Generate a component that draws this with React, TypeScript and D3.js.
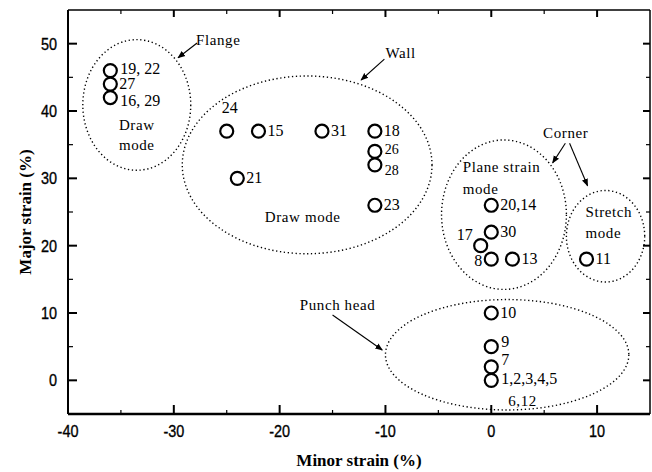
import React from 'react';
import * as d3 from 'd3';

const WIDTH = 652;
const HEIGHT = 472;
const MARGIN = { top: 10, right: 2, bottom: 58, left: 68 };

// measured points: minor strain (x) / major strain (y), in %
const pointLabels = ['19, 22', '27', '16, 29', '24', '15', '31', '18', '26', '28', '21', '23',
  '20,14', '30', '17', '8', '13', '11', '10', '9', '7', '1,2,3,4,5'];
const minorStrain = [-36, -36, -36, -25, -22, -16, -11, -11, -11, -24, -11, 0, 0, -1, 0, 2, 9, 0, 0, 0, 0];
const majorStrain = [46, 44, 42, 37, 37, 37, 37, 34, 32, 30, 26, 26, 22, 20, 18, 18, 18, 10, 5, 2, 0];

// deformation regions drawn as dotted ellipses (centre and half-axes in % strain)
const regionNames = ['Flange', 'Wall', 'Plane strain', 'Stretch', 'Punch head'];
const regionMinor = [-33.5, -17.4, 1.2, 10.8, 1.5];
const regionMajor = [40.9, 32.0, 24.6, 21.4, 3.8];
const regionSpanMinor = [5.1, 11.8, 5.9, 3.7, 11.5];
const regionSpanMajor = [9.7, 13.2, 11.1, 6.8, 8.2];

// annotation texts, anchored in data units
const noteTexts = ['Flange', 'Wall', 'Corner', 'Punch head', 'Draw', 'mode', 'Draw mode',
  'Plane strain', 'mode', 'Stretch', 'mode', '6,12'];
const noteMinor = [-27.9, -10.0, 4.9, -18.1, -33.5, -33.5, -21.4, -2.7, -2.7, 8.9, 8.9, 1.6];
const noteMajor = [49.8, 47.9, 36.0, 10.4, 37.2, 34.2, 23.5, 30.9, 27.7, 24.3, 21.1, -3.8];

// arrows from the region names to their ellipses
const arrowFromMinor = [-27.8, -10.1, 7.0, 7.4, -15.0];
const arrowFromMajor = [50.1, 47.7, 35.2, 35.2, 9.7];
const arrowToMinor = [-29.6, -12.3, 5.8, 9.1, -10.3];
const arrowToMajor = [47.9, 44.6, 32.3, 28.9, 4.5];

const xTicks = [-40, -30, -20, -10, 0, 10];
const yTicks = [0, 10, 20, 30, 40, 50];

const SERIF = '"Liberation Serif", "Times New Roman", serif';
const SANS = '"Liberation Sans", Arial, sans-serif';

// where each point label sits relative to its circle
function labelPlacement(label: string) {
  switch (label) {
    case '24': return { dx: -5, dy: -18, anchor: 'start', size: 16 };
    case '17': return { dx: -8, dy: -6, anchor: 'end', size: 16 };
    case '8': return { dx: -9, dy: 7, anchor: 'end', size: 16 };
    case '9': return { dx: 10, dy: 0, anchor: 'start', size: 16 };
    case '7': return { dx: 10, dy: -2, anchor: 'start', size: 16 };
    case '19, 22': return { dx: 10, dy: 3, anchor: 'start', size: 16 };
    case '16, 29': return { dx: 10, dy: 8, anchor: 'start', size: 16 };
    case '26': return { dx: 10, dy: 3, anchor: 'start', size: 14 };
    case '28': return { dx: 10, dy: 10, anchor: 'start', size: 14 };
    case '1,2,3,4,5': return { dx: 10, dy: 4, anchor: 'start', size: 16 };
    default: return { dx: 9, dy: 5, anchor: 'start', size: 16 };
  }
}

export default function App() {
  const x = d3.scaleLinear().domain([-40, 15]).range([MARGIN.left, WIDTH - MARGIN.right]);
  const y = d3.scaleLinear().domain([-5, 55]).range([HEIGHT - MARGIN.bottom, MARGIN.top]);
  const [x0, x1] = x.range();
  const [y0, y1] = y.range();

  const minorX = d3.range(-35, 15, 10);
  const minorY = d3.range(-5, 55, 10).filter(v => v > -5);

  const centredNotes = new Set([4, 5]);

  return (
    <svg width={WIDTH} height={HEIGHT} style={{ position: 'absolute', left: 0, top: 0, background: '#fff' }}>
      <defs>
        <marker id='head' viewBox='0 0 10 10' refX='9' refY='5' markerWidth='7' markerHeight='7' orient='auto'>
          <path d='M0,1L10,5L0,9Z' fill='#000' />
        </marker>
      </defs>

      {/* regions */}
      {regionNames.map((name, i) =>
        <ellipse
          key={name}
          cx={x(regionMinor[i])}
          cy={y(regionMajor[i])}
          rx={x(regionMinor[i] + regionSpanMinor[i]) - x(regionMinor[i])}
          ry={y(regionMajor[i]) - y(regionMajor[i] + regionSpanMajor[i])}
          fill='none'
          stroke='#000'
          strokeWidth={1.4}
          strokeDasharray='1.3 2.6'
        />
      )}

      {/* arrows */}
      {arrowFromMinor.map((m, i) =>
        <line
          key={i}
          x1={x(m)} y1={y(arrowFromMajor[i])}
          x2={x(arrowToMinor[i])} y2={y(arrowToMajor[i])}
          stroke='#000' strokeWidth={1.1}
          markerEnd='url(#head)'
        />
      )}

      {/* frame */}
      <g fill='none' stroke='#000'>
        <line x1={x0} x2={x1} y1={y1} y2={y1} strokeWidth={1.5} />
        <line x1={x1} x2={x1} y1={y1} y2={y0} strokeWidth={1.5} />
        <line x1={x0} x2={x0} y1={y1} y2={y0} strokeWidth={2} />
        <line x1={x0} x2={x1} y1={y0} y2={y0} strokeWidth={2.5} />
        {xTicks.map(t =>
          <g key={t} strokeWidth={2}>
            <line x1={x(t)} x2={x(t)} y1={y0} y2={y0 - 9} />
            <line x1={x(t)} x2={x(t)} y1={y1} y2={y1 + 7} />
          </g>
        )}
        {minorX.map(t =>
          <g key={t} strokeWidth={1.2}>
            <line x1={x(t)} x2={x(t)} y1={y0} y2={y0 - 4} />
            <line x1={x(t)} x2={x(t)} y1={y1} y2={y1 + 4} />
          </g>
        )}
        {yTicks.map(t =>
          <g key={t} strokeWidth={2}>
            <line x1={x0} x2={x0 + 9} y1={y(t)} y2={y(t)} />
            <line x1={x1} x2={x1 - 7} y1={y(t)} y2={y(t)} />
          </g>
        )}
        {minorY.map(t =>
          <g key={t} strokeWidth={1.2}>
            <line x1={x0} x2={x0 + 5} y1={y(t)} y2={y(t)} />
            <line x1={x1} x2={x1 - 4} y1={y(t)} y2={y(t)} />
          </g>
        )}
      </g>

      {/* tick labels */}
      <g fontFamily={SANS} fontSize={17} fill='#000' stroke='#000' strokeWidth={0.35}>
        {xTicks.map(t =>
          <g key={t} transform={`translate(${x(t)},${y0 + 23})`}>
            <text transform='scale(0.85,1)' textAnchor='middle'>{t}</text>
          </g>
        )}
        {yTicks.map(t =>
          <g key={t} transform={`translate(${x0 - 11},${y(t) + 6})`}>
            <text transform='scale(0.85,1)' textAnchor='end'>{t}</text>
          </g>
        )}
      </g>

      {/* axis titles */}
      <text x={(x0 + x1) / 2} y={466} textAnchor='middle' fontFamily={SERIF} fontWeight='bold' fontSize={17}>
        Minor strain (%)
      </text>
      <text transform={`translate(31,${(y0 + y1) / 2}) rotate(-90)`} textAnchor='middle' fontFamily={SERIF} fontWeight='bold' fontSize={17}>
        Major strain (%)
      </text>

      {/* annotation texts */}
      <g fontFamily={SERIF} fontSize={15} letterSpacing={0.6} fill='#000'>
        {noteTexts.map((t, i) =>
          <text key={i} x={x(noteMinor[i])} y={y(noteMajor[i])} textAnchor={centredNotes.has(i) ? 'middle' : 'start'}>{t}</text>
        )}
      </g>

      {/* points */}
      <g fill='none' stroke='#000' strokeWidth={2.2}>
        {minorStrain.map((m, i) =>
          <circle key={i} cx={x(m)} cy={y(majorStrain[i])} r={6.5} />
        )}
      </g>
      <g fontFamily={SERIF} fill='#000'>
        {pointLabels.map((lbl, i) => {
          let p = labelPlacement(lbl);
          return <text key={i} x={x(minorStrain[i]) + p.dx} y={y(majorStrain[i]) + p.dy} fontSize={p.size} textAnchor={p.anchor}>{lbl}</text>;
        })}
      </g>
    </svg>
  );
}
